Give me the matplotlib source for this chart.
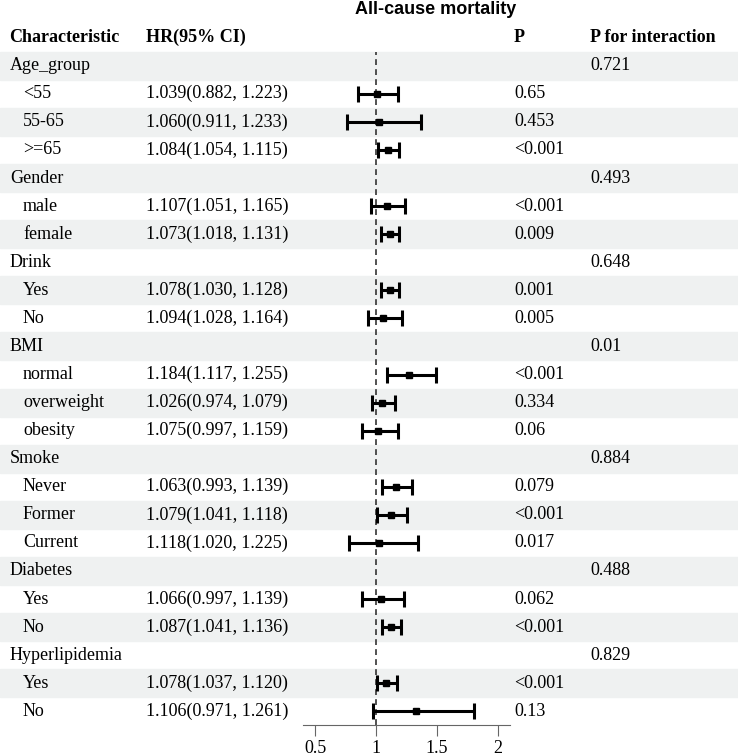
import numpy as np
import matplotlib
matplotlib.use('Agg')
import matplotlib.pyplot as plt

# Дані таблиці (рядки зверху вниз)
labels = ['Age_group', '<55', '55-65', '>=65',
          'Gender', 'male', 'female',
          'Drink', 'Yes', 'No',
          'BMI', 'normal', 'overweight', 'obesity',
          'Smoke', 'Never', 'Former', 'Current',
          'Diabetes', 'Yes', 'No',
          'Hyperlipidemia', 'Yes', 'No']
is_group = [True, False, False, False,
            True, False, False,
            True, False, False,
            True, False, False, False,
            True, False, False, False,
            True, False, False,
            True, False, False]
hr_text = ['', '1.039(0.882, 1.223)', '1.060(0.911, 1.233)', '1.084(1.054, 1.115)',
           '', '1.107(1.051, 1.165)', '1.073(1.018, 1.131)',
           '', '1.078(1.030, 1.128)', '1.094(1.028, 1.164)',
           '', '1.184(1.117, 1.255)', '1.026(0.974, 1.079)', '1.075(0.997, 1.159)',
           '', '1.063(0.993, 1.139)', '1.079(1.041, 1.118)', '1.118(1.020, 1.225)',
           '', '1.066(0.997, 1.139)', '1.087(1.041, 1.136)',
           '', '1.078(1.037, 1.120)', '1.106(0.971, 1.261)']
p_text = ['', '0.65', '0.453', '<0.001',
          '', '<0.001', '0.009',
          '', '0.001', '0.005',
          '', '<0.001', '0.334', '0.06',
          '', '0.079', '<0.001', '0.017',
          '', '0.062', '<0.001',
          '', '<0.001', '0.13']
p_inter = ['0.721', '', '', '',
           '0.493', '', '',
           '0.648', '', '',
           '0.01', '', '', '',
           '0.884', '', '', '',
           '0.488', '', '',
           '0.829', '', '']

# Значення, як їх намальовано на графіку
nan = np.nan
est = np.array([nan, 1.004, 1.023, 1.101,
                nan, 1.093, 1.115,
                nan, 1.115, 1.060,
                nan, 1.270, 1.052, 1.019,
                nan, 1.162, 1.121, 1.025,
                nan, 1.041, 1.121,
                nan, 1.082, 1.327])
lo = np.array([nan, 0.849, 0.760, 1.019,
               nan, 0.959, 1.038,
               nan, 1.044, 0.937,
               nan, 1.093, 0.970, 0.882,
               nan, 1.047, 1.011, 0.780,
               nan, 0.882, 1.047,
               nan, 1.005, 0.973])
hi = np.array([nan, 1.177, 1.372, 1.192,
               nan, 1.239, 1.189,
               nan, 1.189, 1.211,
               nan, 1.491, 1.156, 1.184,
               nan, 1.299, 1.258, 1.343,
               nan, 1.233, 1.203,
               nan, 1.170, 1.804])
x_ticks = [0.5, 1, 1.5, 2]

serif = 'Liberation Serif'
W, H = 738, 756
top, row_h = 51.7, 28.07
n = len(labels)

fig = plt.figure(figsize=(W / 100, H / 100), dpi=100)
ax = fig.add_axes([0, 0, 1, 1])
ax.set_xlim(0, W)
ax.set_ylim(H, 0)
ax.axis('off')

# смуги фону
for i in range(n):
    if i % 2 == 0:
        ax.axhspan(top + i * row_h, top + (i + 1) * row_h, color='#EFF1F1', zorder=0)

# заголовки
ax.text(436, 10, 'All-cause mortality', fontsize=13, fontweight='bold',
        family='Liberation Sans', ha='center', va='center')
hy = 37
ax.text(9, hy, 'Characteristic', fontsize=13, fontweight='bold', family=serif, va='center')
ax.text(146, hy, 'HR(95% CI)', fontsize=13, fontweight='bold', family=serif, va='center')
ax.text(514, hy, 'P', fontsize=13, fontweight='bold', family=serif, va='center')
ax.text(590, hy, 'P for interaction', fontsize=13, fontweight='bold', family=serif, va='center')

for i in range(n):
    y = top + (i + 0.5) * row_h
    ax.text(10 if is_group[i] else 23, y, labels[i], fontsize=13, family=serif, va='center')
    ax.text(146, y, hr_text[i], fontsize=13, family=serif, va='center')
    ax.text(514, y, p_text[i], fontsize=13, family=serif, va='center')
    ax.text(590, y, p_inter[i], fontsize=13, family=serif, va='center')

# форест-плот
x0, x1 = 303, 510
bottom = top + n * row_h
fax = fig.add_axes([x0 / W, 1 - bottom / H, (x1 - x0) / W, (bottom - top) / H])
fax.patch.set_alpha(0)
fax.set_xlim(0.4, 2.1)
fax.set_ylim(n, 0)
rows = np.arange(n) + 0.5
fax.axvline(1, color='#333333', lw=1.2, linestyle=(0, (3.5, 2.5)), zorder=1)
fax.errorbar(est, rows, xerr=[est - lo, hi - est], fmt='s', color='black',
             ms=5, elinewidth=2.2, capsize=5.5, capthick=2.2, zorder=3)
for s in ['top', 'left', 'right']:
    fax.spines[s].set_visible(False)
fax.spines['bottom'].set_color('#666666')
fax.set_yticks([])
fax.set_xticks(x_ticks)
fax.set_xticklabels(['0.5', '1', '1.5', '2'], family=serif, fontsize=13)
fax.tick_params(axis='x', direction='out', length=8, color='#666666', pad=2.5)

fig.savefig('out.png', dpi=100)
